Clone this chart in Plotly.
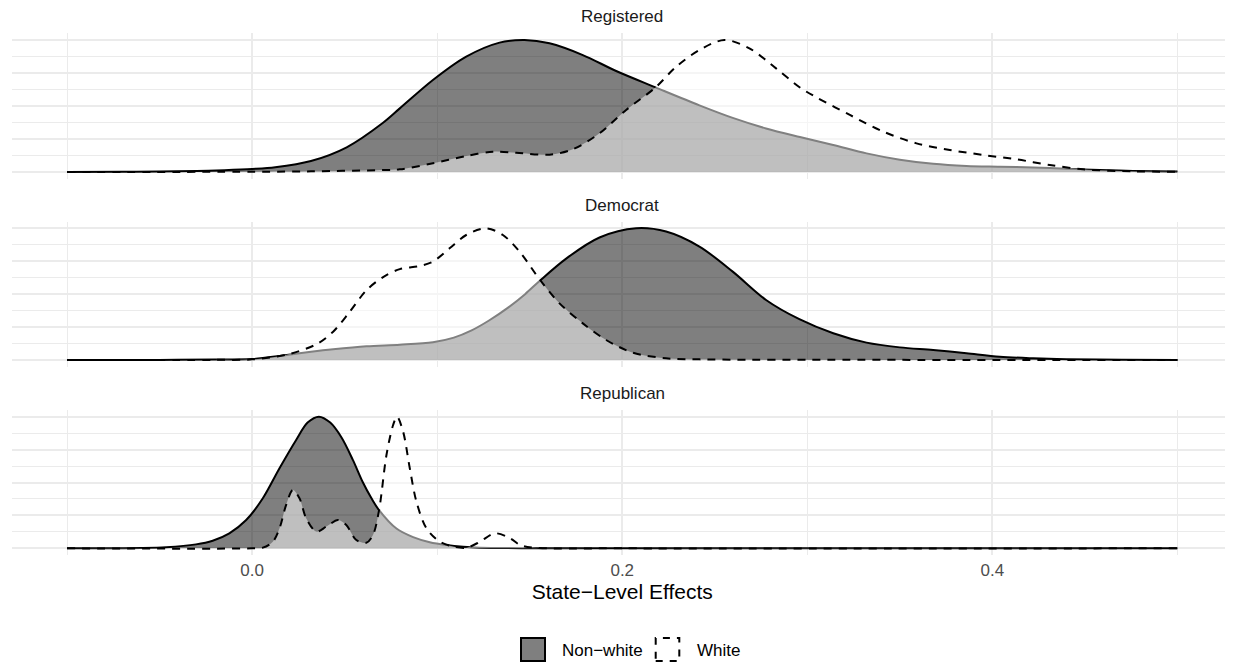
import plotly.graph_objects as go

# ---------------- data (scaled densities) ----------------
PANELS = ["Registered", "Democrat", "Republican"]
GROUPS = ["Non\u2212white", "White"]
X_TICKS = [0.0, 0.2, 0.4]
X_TICK_LABELS = ["0.0", "0.2", "0.4"]
X_MINOR = [-0.1, 0.1, 0.3, 0.5]
Y_MAJOR = [0, 0.25, 0.5, 0.75, 1.0]
Y_MINOR = [0.125, 0.375, 0.625, 0.875]

reg_nonwhite_x = [-0.10, -0.07, -0.05, -0.03, -0.015, 0.0, 0.0125, 0.0318, 0.0511, 0.0704, 0.0798,
                  0.0977, 0.1157, 0.1337, 0.1472, 0.1607, 0.1787, 0.1967, 0.218, 0.2417, 0.2597,
                  0.2777, 0.296, 0.314, 0.332, 0.350, 0.368, 0.386, 0.404, 0.422, 0.440,
                  0.458, 0.476, 0.50]
reg_nonwhite_y = [0.0, 0.001, 0.003, 0.008, 0.014, 0.023, 0.036, 0.083, 0.187, 0.369, 0.482,
                  0.697, 0.874, 0.98, 1.0, 0.975, 0.886, 0.765, 0.641, 0.505, 0.41,
                  0.33, 0.265, 0.205, 0.141, 0.093, 0.062, 0.046, 0.040, 0.034, 0.025,
                  0.015, 0.008, 0.004]

reg_white_x = [-0.10, 0.0, 0.0318, 0.0704, 0.0798, 0.0977, 0.1157, 0.1301, 0.1427, 0.1607, 0.1733,
               0.1877, 0.2021, 0.218, 0.2292, 0.2417, 0.2552, 0.2687, 0.2831, 0.296, 0.305,
               0.323, 0.341, 0.359, 0.377, 0.395, 0.413, 0.431, 0.449, 0.476, 0.50]
reg_white_y = [0.0, 0.002, 0.005, 0.015, 0.02, 0.066, 0.121, 0.154, 0.146, 0.131, 0.172,
               0.293, 0.47, 0.641, 0.798, 0.924, 1.0, 0.937, 0.785, 0.64, 0.565,
               0.432, 0.306, 0.217, 0.167, 0.129, 0.096, 0.053, 0.02, 0.005, 0.002]

dem_nonwhite_x = [-0.10, -0.05, -0.02, 0.0, 0.0168, 0.0318, 0.0438, 0.0618, 0.0798, 0.0977, 0.109,
                  0.1186, 0.128, 0.1385, 0.1475, 0.1553, 0.1697, 0.1877, 0.2075, 0.2237, 0.2417,
                  0.2597, 0.2777, 0.2957, 0.314, 0.332, 0.350, 0.368, 0.386, 0.404, 0.422, 0.440,
                  0.47, 0.50]
dem_nonwhite_y = [0.0, 0.001, 0.003, 0.007, 0.035, 0.062, 0.081, 0.104, 0.116, 0.135, 0.17,
                  0.225, 0.30, 0.40, 0.50, 0.60, 0.77, 0.93, 1.0, 0.975, 0.861,
                  0.671, 0.456, 0.31, 0.203, 0.132, 0.096, 0.076, 0.051, 0.025, 0.013, 0.006,
                  0.002, 0.001]

dem_white_x = [-0.10, -0.02, 0.0, 0.0185, 0.0348, 0.0438, 0.0528, 0.0618, 0.0708, 0.0798, 0.0906,
               0.0977, 0.1067, 0.1157, 0.1265, 0.1355, 0.1445, 0.1553, 0.1661, 0.1787, 0.1913,
               0.2057, 0.2237, 0.2417, 0.30, 0.50]
dem_white_y = [0.0, 0.001, 0.005, 0.04, 0.12, 0.215, 0.367, 0.53, 0.63, 0.69, 0.714,
               0.747, 0.848, 0.949, 1.0, 0.949, 0.823, 0.613, 0.43, 0.278, 0.152,
               0.056, 0.013, 0.005, 0.002, 0.0]

rep_nonwhite_x = [-0.10, -0.06, -0.0464, -0.0303, -0.0213, -0.0123, -0.0032, 0.0058, 0.0148, 0.0238,
                  0.0300, 0.0361, 0.0422, 0.0484, 0.0545, 0.0599, 0.0645, 0.0686, 0.078, 0.087,
                  0.096, 0.105, 0.114, 0.123, 0.15, 0.50]
rep_nonwhite_y = [0.0, 0.002, 0.008, 0.03, 0.058, 0.114, 0.215, 0.38, 0.608, 0.823,
                  0.955, 1.0, 0.955, 0.84, 0.67, 0.50, 0.38, 0.29, 0.15, 0.085,
                  0.046, 0.025, 0.012, 0.005, 0.001, 0.0]

rep_white_x = [-0.10, 0.0, 0.0058, 0.0112, 0.0148, 0.0184, 0.022, 0.0256, 0.0292, 0.0347, 0.0401,
               0.0464, 0.0509, 0.0563, 0.0617, 0.0653, 0.0686, 0.0726, 0.0762, 0.0783, 0.0816,
               0.0852, 0.0888, 0.0942, 0.1014, 0.1087, 0.1159, 0.1231, 0.1312, 0.1394, 0.1448,
               0.152, 0.2, 0.5]
rep_white_y = [0.0, 0.0, 0.005, 0.05, 0.152, 0.33, 0.443, 0.38, 0.228, 0.127, 0.165,
               0.215, 0.177, 0.063, 0.042, 0.101, 0.29, 0.709, 0.937, 1.0, 0.886,
               0.608, 0.354, 0.152, 0.051, 0.013, 0.005, 0.05, 0.114, 0.076, 0.025,
               0.005, 0.0, 0.0]

CURVES = {
    "Registered": [(reg_nonwhite_x, reg_nonwhite_y), (reg_white_x, reg_white_y)],
    "Democrat": [(dem_nonwhite_x, dem_nonwhite_y), (dem_white_x, dem_white_y)],
    "Republican": [(rep_nonwhite_x, rep_nonwhite_y), (rep_white_x, rep_white_y)],
}

# ---------------- layout helpers ----------------
PAGE_W, PAGE_H = 1233, 665
OFF = 8  # default page body margin
W, H = PAGE_W - OFF, PAGE_H - OFF
FONT = "Liberation Sans, Arial, Helvetica, sans-serif"
GRID = "#EBEBEB"


def py(p):
    return (H - (p - OFF)) / H


def px(p):
    return (p - OFF) / W


PANEL_PX = [(33.4, 178.6), (221.7, 366.6), (410.1, 554.9)]  # top, bottom (page pixels)
STRIP_PX = [16.0, 205.8, 393.6]
X_RANGE = [-0.13, 0.53]

STYLE = [
    dict(fillcolor="rgba(0,0,0,0.5)", line=dict(color="black", width=2)),
    dict(fillcolor="rgba(255,255,255,0.5)", line=dict(color="black", width=2, dash="8px,7px")),
]

fig = go.Figure()
for i, name in enumerate(PANELS):
    sfx = "" if i == 0 else str(i + 1)
    for g, (xs, ys) in enumerate(CURVES[name]):
        fig.add_trace(go.Scatter(
            x=xs, y=ys, mode="lines", name=GROUPS[g], showlegend=False,
            line_shape="spline", fill="tozeroy",
            fillcolor=STYLE[g]["fillcolor"], line=dict(STYLE[g]["line"], smoothing=0.9),
            xaxis="x" + sfx, yaxis="y" + sfx, hoverinfo="skip",
        ))
    top, bot = PANEL_PX[i]
    last = i == len(PANELS) - 1
    xa = dict(
        domain=[px(11.5), 1.0], range=X_RANGE, anchor="y" + sfx,
        tickvals=X_TICKS, ticktext=X_TICK_LABELS, showticklabels=last, ticks="",
        ticklabelstandoff=3,
        tickfont=dict(family=FONT, size=17, color="#4D4D4D"),
        showgrid=True, gridcolor=GRID, gridwidth=1.6, zeroline=False, showline=False,
        minor=dict(tickvals=X_MINOR, showgrid=True, gridcolor=GRID, gridwidth=1.0, ticks=""),
        automargin=False, fixedrange=True,
    )
    if last:
        xa["title"] = dict(text="State\u2212Level Effects", font=dict(family=FONT, size=21, color="black"),
                           standoff=5)
    else:
        xa["matches"] = "x3"
    ya = dict(
        domain=[py(bot), py(top)], range=[-0.05, 1.05], anchor="x" + sfx,
        tickvals=Y_MAJOR, showticklabels=False, ticks="",
        showgrid=True, gridcolor=GRID, gridwidth=1.6, zeroline=False, showline=False,
        minor=dict(tickvals=Y_MINOR, showgrid=True, gridcolor=GRID, gridwidth=1.0, ticks=""),
        automargin=False, fixedrange=True,
    )
    fig.layout["xaxis" + sfx] = xa
    fig.layout["yaxis" + sfx] = ya
    fig.add_annotation(text=name, x=(px(11.5) + 1.0) / 2, y=py(STRIP_PX[i]), xref="paper", yref="paper",
                       xanchor="center", yanchor="middle", showarrow=False,
                       font=dict(family=FONT, size=17, color="#1A1A1A"))

# ---------------- legend (drawn manually, ggplot style) ----------------
LEG_KEYS = [(521, 545), (655.7, 679.3)]
LEG_TEXT_X = [560, 695]
for g, label in enumerate(GROUPS):
    x0, x1 = LEG_KEYS[g]
    fig.add_shape(type="rect", xref="paper", yref="paper",
                  x0=px(x0), x1=px(x1), y0=py(661), y1=py(638),
                  fillcolor="#7F7F7F" if g == 0 else "white",
                  line=dict(color="black", width=2, dash="solid" if g == 0 else "7px,7px"))
    fig.add_annotation(text=label, x=px(LEG_TEXT_X[g]), y=py(650.5), xref="paper", yref="paper",
                       xanchor="left", yanchor="middle", showarrow=False,
                       font=dict(family=FONT, size=17, color="black"))

fig.update_layout(
    width=W, height=H, margin=dict(l=0, r=0, t=0, b=0),
    paper_bgcolor="white", plot_bgcolor="white", showlegend=False,
    font=dict(family=FONT),
)

fig.write_html("out.html")
